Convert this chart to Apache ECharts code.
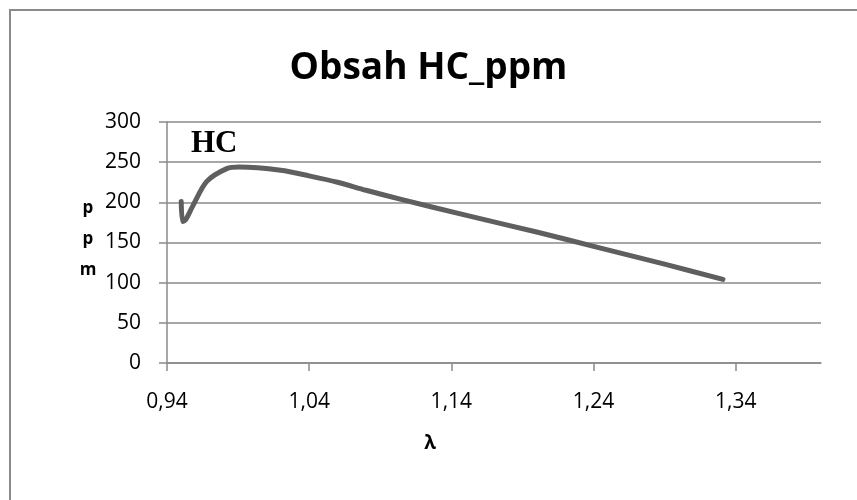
<!DOCTYPE html>
<html>
<head>
<meta charset="utf-8">
<script src="https://cdn.jsdelivr.net/npm/echarts@6/dist/echarts.min.js"></script>
<style>
  html, body { margin: 0; padding: 0; background: #fff; }
  #chart { width: 857px; height: 500px; }
</style>
</head>
<body>
<div id="chart"></div>
<script>
// HC concentration (ppm) against air-fuel ratio lambda
const lambdaValues = [0.950, 0.951, 0.953, 0.958, 0.968, 0.982, 0.991, 1.020, 1.040, 1.060, 1.080, 1.104, 1.150, 1.200, 1.245, 1.290, 1.331];
const hcValues     = [201,   176,   178,   195,   226,   242,   244,   240,   233,   225,   215,   204,   184,   163,   143,   123,   104];
const xTickValues  = [0.94, 1.04, 1.14, 1.24, 1.34];

const chart = echarts.init(document.getElementById('chart'));
const gray = '#8a8a8a';
const fmt = v => v.toFixed(2).replace('.', ',');
const labelFont = { fontFamily: 'Open Sans', fontSize: 21, color: '#000' };

chart.setOption({
  animation: false,
  backgroundColor: '#fff',
  title: {
    text: 'Obsah HC_ppm',
    left: 'center',
    top: 45,
    textStyle: { fontFamily: 'Open Sans', fontWeight: 'bold', fontSize: 37, color: '#000' }
  },
  grid: { left: 167, right: 36, top: 122, bottom: 137 },
  xAxis: {
    type: 'value',
    min: 0.94,
    max: 1.40,
    axisLine: { show: true, onZero: false, lineStyle: { color: gray, width: 1.5 } },
    axisTick: { show: true, length: 8, customValues: xTickValues, lineStyle: { color: gray, width: 1.5 } },
    axisLabel: Object.assign({ customValues: xTickValues, formatter: fmt, margin: 29 }, labelFont),
    splitLine: { show: false }
  },
  yAxis: {
    type: 'value',
    min: 0,
    max: 300,
    interval: 50,
    axisLine: { show: true, lineStyle: { color: gray, width: 1.5 } },
    axisTick: { show: true, length: 8, lineStyle: { color: gray, width: 1.5 } },
    axisLabel: Object.assign({ margin: 26, formatter: v => String(v) }, labelFont),
    splitLine: { show: true, lineStyle: { color: gray, width: 1.5 } }
  },
  series: [{
    type: 'line',
    data: lambdaValues.map((x, i) => [x, hcValues[i]]),
    smooth: 0.3,
    showSymbol: false,
    lineStyle: { color: '#5f5f5f', width: 5, cap: 'round', join: 'round' },
    z: 5
  }],
  graphic: [
    {
      type: 'rect',
      shape: { x: 10, y: 10, width: 900, height: 600 },
      style: { fill: 'none', stroke: gray, lineWidth: 2 },
      silent: true
    },
    {
      type: 'text',
      x: 191, y: 144,
      style: { text: 'HC', font: 'bold 31px "Liberation Serif"', fill: '#000', verticalAlign: 'middle' }
    },
    {
      type: 'text',
      x: 88, y: 193,
      style: { text: 'p\np\nm', font: 'bold 17px "Open Sans"', lineHeight: 31, fill: '#000', align: 'center' }
    },
    {
      type: 'text',
      x: 430, y: 444,
      style: { text: 'λ', font: 'bold 19px "Open Sans"', fill: '#000', align: 'center', verticalAlign: 'middle' }
    }
  ]
});
</script>
</body>
</html>
